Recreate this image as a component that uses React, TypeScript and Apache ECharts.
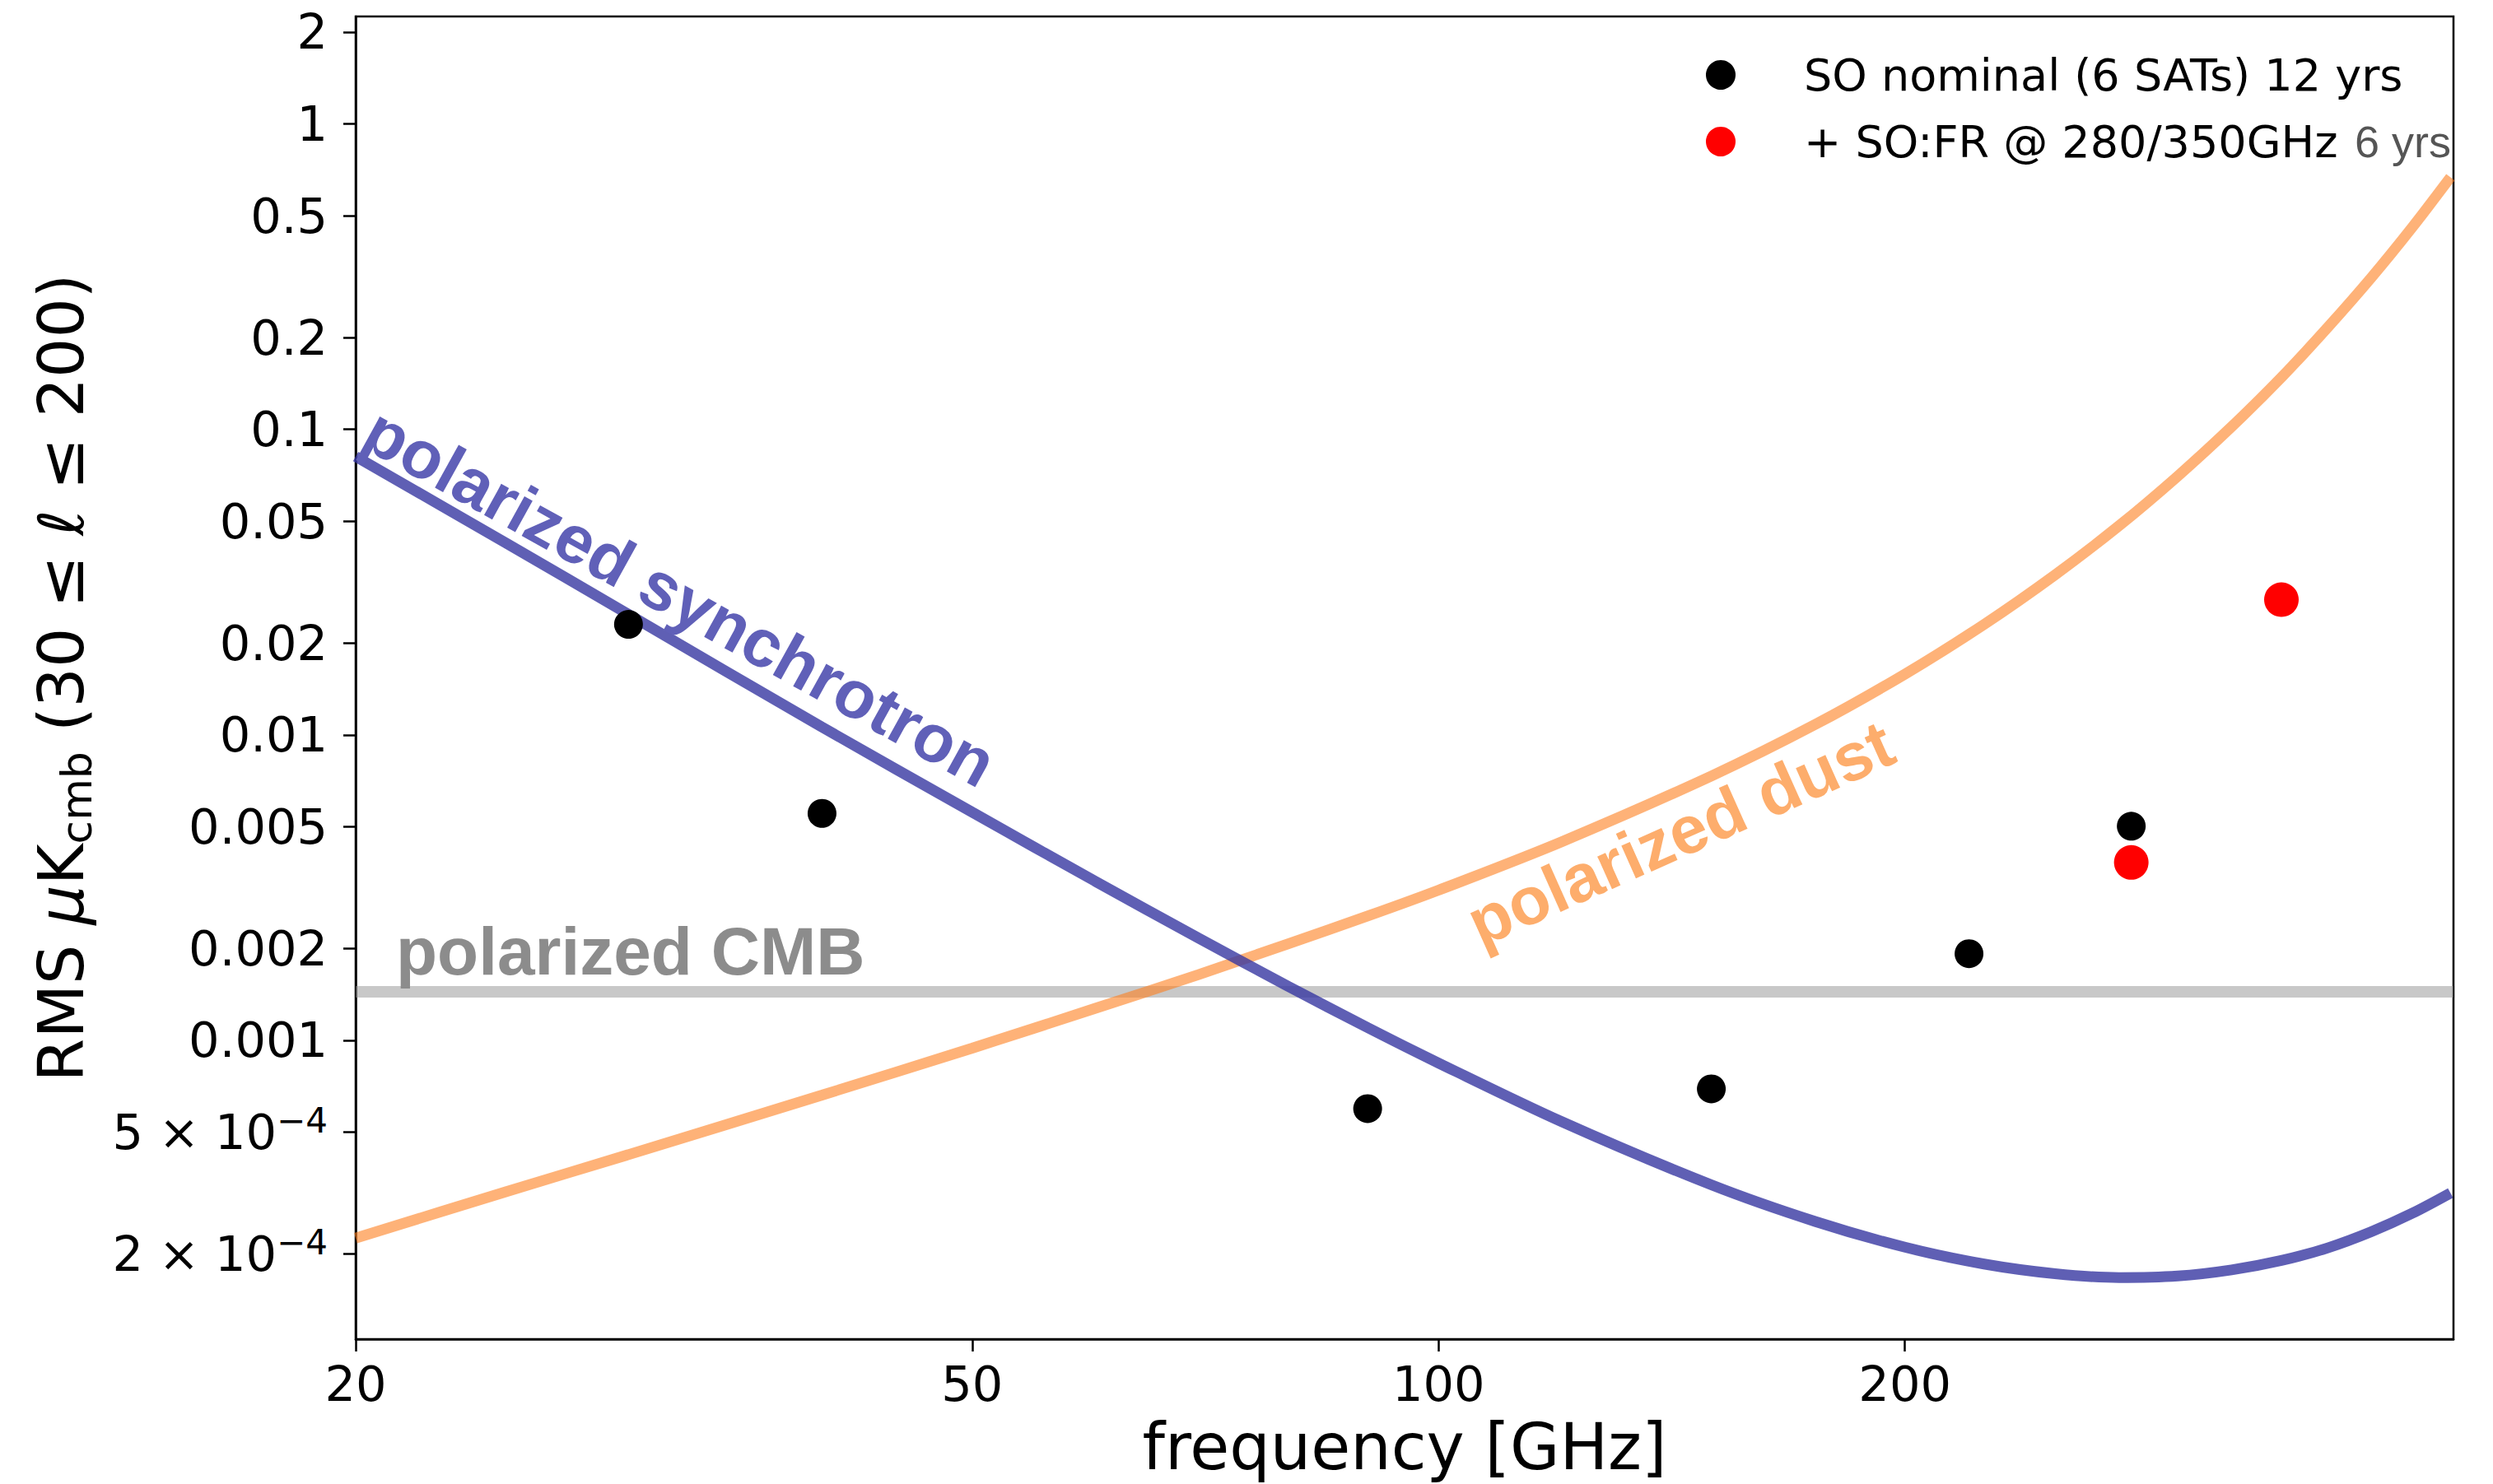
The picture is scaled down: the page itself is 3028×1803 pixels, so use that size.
import React, { useEffect, useRef } from "react";
import * as echarts from "echarts";

// ---- data ----
const freqGrid = [20, 25, 30, 40, 50, 60, 70, 80, 90, 100, 120, 150, 175, 200, 225, 250, 275, 300, 325, 350, 375, 400, 425, 450];
const synchrotronRms = [0.0815, 0.0425, 0.0248, 0.0106, 0.00558, 0.00332, 0.00216, 0.0015, 0.0011, 0.000842, 0.000542, 0.000336, 0.000255, 0.00021, 0.000185, 0.000172, 0.000167, 0.000169, 0.000177, 0.00019, 0.000209, 0.000236, 0.000271, 0.000316];
const dustRms = [0.000225, 0.000319, 0.000422, 0.000661, 0.000942, 0.00127, 0.00164, 0.00207, 0.00255, 0.0031, 0.00446, 0.00733, 0.0108, 0.0158, 0.023, 0.0334, 0.0484, 0.0703, 0.102, 0.148, 0.216, 0.314, 0.458, 0.669];
const cmbFreq = [20, 452];
const cmbRms = [0.00144, 0.00144];

const soNominalFreq = [30, 40, 90, 150, 220, 280];
const soNominalRms = [0.023, 0.00553, 0.000597, 0.000693, 0.00192, 0.00502];
const soFrFreq = [280, 350];
const soFrRms = [0.00382, 0.0277];

const xTickValues = [20, 50, 100, 200];
const xTickLabels = ["20", "50", "100", "200"];
const yTickValues = [2, 1, 0.5, 0.2, 0.1, 0.05, 0.02, 0.01, 0.005, 0.002, 0.001, 0.0005, 0.0002];
const yTickLabels = ["2", "1", "0.5", "0.2", "0.1", "0.05", "0.02", "0.01", "0.005", "0.002", "0.001", "{m|5 × 10}{e|−4}", "{m|2 × 10}{e|−4}"];

const seriesNames = ["SO nominal (6 SATs) 12 yrs", "+ SO:FR @ 280/350GHz"];

function lookupLabel(values: number[], labels: string[], v: number) {
  for (let i = 0; i < values.length; i++) {
    if (Math.abs(Math.log10(values[i]) - Math.log10(v)) < 1e-6) return labels[i];
  }
  return "";
}

const pair = (xs: number[], ys: number[]) => xs.map((x, i) => [x, ys[i]]);

export default function App() {
  const ref = useRef<HTMLDivElement>(null);

  useEffect(() => {
    if (!ref.current) return;
    const chart = echarts.init(ref.current, undefined, { renderer: "svg" });
    const tickFont = "DejaVu Sans";
    const option: any = {
      animation: false,
      backgroundColor: "#ffffff",
      grid: {
        left: 432,
        top: 20,
        width: 2548,
        height: 1607,
        show: true,
        borderColor: "#000",
        borderWidth: 2.5,
        backgroundColor: "transparent",
        containLabel: false,
        outerBoundsMode: "none",
      },
      xAxis: {
        type: "log",
        logBase: 10,
        min: 20,
        max: 452,
        name: "frequency [GHz]",
        nameLocation: "middle",
        nameGap: 92,
        nameTextStyle: { fontSize: 78, fontFamily: tickFont, color: "#000", lineHeight: 78 },
        axisLine: { show: true, lineStyle: { color: "#000", width: 2.5 } },
        axisTick: { show: true, inside: false, length: 15, lineStyle: { color: "#000", width: 2.5 }, customValues: xTickValues },
        axisLabel: {
          show: true,
          customValues: xTickValues,
          fontSize: 59,
          lineHeight: 59,
          fontFamily: tickFont,
          color: "#000",
          margin: 25,
          formatter: (v: number) => lookupLabel(xTickValues, xTickLabels, v),
        },
        splitLine: { show: false },
        minorTick: { show: false },
      },
      yAxis: {
        type: "log",
        logBase: 10,
        min: 0.000105,
        max: 2.25,
        name: "{r|RMS }{i|μ}{r|K}{s|cmb}{r| (30 ≤ }{i|ℓ}{r| ≤ 200)}",
        nameLocation: "middle",
        nameRotate: 90,
        nameGap: 313,
        nameTextStyle: {
          rich: {
            r: { fontSize: 76, fontFamily: tickFont, color: "#000", lineHeight: 90, verticalAlign: "middle" },
            i: { fontSize: 76, fontFamily: tickFont, fontStyle: "italic", color: "#000", lineHeight: 90, verticalAlign: "middle" },
            s: { fontSize: 52, fontFamily: tickFont, color: "#000", lineHeight: 50, verticalAlign: "bottom" },
          },
        },
        axisLine: { show: true, lineStyle: { color: "#000", width: 2.5 } },
        axisTick: { show: true, inside: false, length: 15, lineStyle: { color: "#000", width: 2.5 }, customValues: yTickValues },
        axisLabel: {
          show: true,
          customValues: yTickValues,
          fontSize: 59,
          lineHeight: 70,
          fontFamily: tickFont,
          color: "#000",
          margin: 34,
          formatter: (v: number) => lookupLabel(yTickValues, yTickLabels, v),
          rich: {
            m: { fontSize: 59, fontFamily: tickFont, color: "#000", lineHeight: 70, verticalAlign: "middle" },
            e: { fontSize: 42, fontFamily: tickFont, color: "#000", lineHeight: 36, verticalAlign: "top" },
          },
        },
        splitLine: { show: false },
        minorTick: { show: false },
      },
      legend: {
        data: seriesNames,
        orient: "vertical",
        left: 2072,
        top: 61,
        padding: 0,
        itemWidth: 192,
        itemHeight: 36,
        itemGap: 21,
        icon: "circle",
        itemStyle: { opacity: 1 },
        textStyle: { fontSize: 54, fontFamily: tickFont, color: "#000", lineHeight: 60 },
        selectedMode: false,
      },
      series: [
        {
          name: "polarized CMB",
          type: "line",
          data: pair(cmbFreq, cmbRms),
          symbol: "none",
          lineStyle: { color: "rgba(145,145,145,0.5)", width: 14 },
          silent: true,
        },
        {
          name: "polarized dust",
          type: "line",
          data: pair(freqGrid, dustRms),
          symbol: "none",
          smooth: 0.3,
          lineStyle: { color: "rgba(253,127,30,0.6)", width: 13 },
          silent: true,
        },
        {
          name: "polarized synchrotron",
          type: "line",
          data: pair(freqGrid, synchrotronRms),
          symbol: "none",
          smooth: 0.3,
          lineStyle: { color: "rgba(55,55,161,0.8)", width: 13 },
          silent: true,
        },
        {
          name: seriesNames[0],
          type: "scatter",
          data: pair(soNominalFreq, soNominalRms),
          symbol: "circle",
          symbolSize: 35,
          itemStyle: { color: "#000000", opacity: 1 },
          z: 5,
        },
        {
          name: seriesNames[1],
          type: "scatter",
          data: pair(soFrFreq, soFrRms),
          symbol: "circle",
          symbolSize: 42,
          itemStyle: { color: "#ff0000", opacity: 1 },
          z: 5,
        },
      ],
      graphic: [
        {
          type: "text",
          x: 826,
          y: 725,
          rotation: (-29 * Math.PI) / 180,
          z: 10,
          style: {
            text: "polarized synchrotron",
            font: 'bold 82px "Liberation Sans"',
            fill: "#6060b8",
            align: "center",
            verticalAlign: "middle",
          },
        },
        {
          type: "text",
          x: 2041,
          y: 1012,
          rotation: (24 * Math.PI) / 180,
          z: 10,
          style: {
            text: "polarized dust",
            font: 'bold 82px "Liberation Sans"',
            fill: "#fdad6c",
            align: "center",
            verticalAlign: "middle",
          },
        },
        {
          type: "text",
          x: 481,
          y: 1155,
          z: 10,
          style: {
            text: "polarized CMB",
            font: 'bold 82px "Liberation Sans"',
            fill: "#8c8c8c",
            align: "left",
            verticalAlign: "middle",
          },
        },
        {
          type: "text",
          x: 2860,
          y: 172,
          z: 10,
          style: {
            text: "6 yrs",
            font: '54px "Liberation Sans"',
            fill: "#555555",
            align: "left",
            verticalAlign: "middle",
          },
        },
      ],
    };
    chart.setOption(option);
    return () => chart.dispose();
  }, []);

  return (
    <div
      ref={ref}
      style={{ position: "absolute", left: 0, top: 0, width: 3028, height: 1803, overflow: "hidden", background: "#fff" }}
    />
  );
}
